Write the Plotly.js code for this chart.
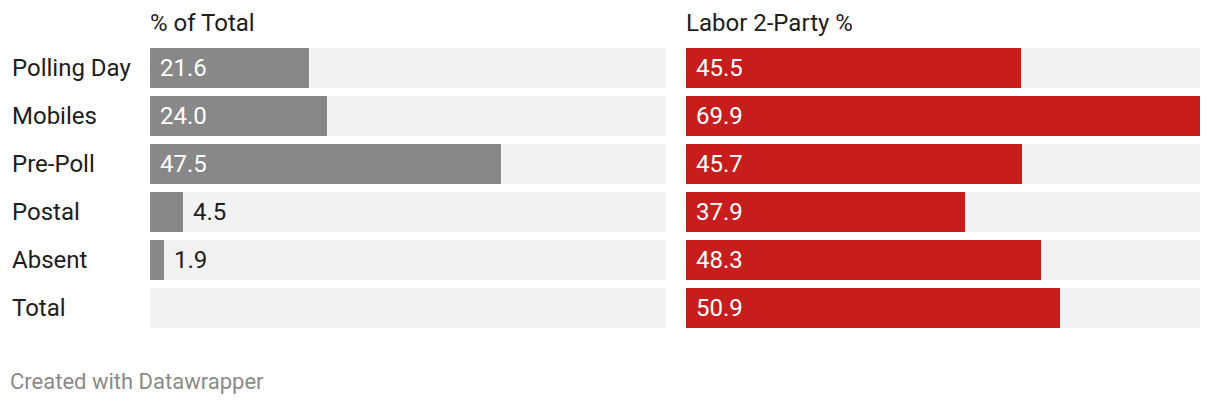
<!DOCTYPE html>
<html>
<head>
<meta charset="utf-8">
<script src="https://cdn.plot.ly/plotly-3.0.1.min.js"></script>
<style>html,body{margin:0;padding:0;background:#fff;}#chart{width:1220px;height:404px;}</style>
</head>
<body>
<div id="chart"></div>
<script>
const categories = ["Polling Day", "Mobiles", "Pre-Poll", "Postal", "Absent", "Total"];
const pctOfTotal = [21.6, 24.0, 47.5, 4.5, 1.9, null];
const labor2Party = [45.5, 69.9, 45.7, 37.9, 48.3, 50.9];
const columnTitles = ["% of Total", "Labor 2-Party %"];
const footer = "Created with Datawrapper";

const W = 1220, H = 404;
const FONT = "Roboto, 'Noto Sans', sans-serif";
const allVals = pctOfTotal.concat(labor2Party).filter(v => v !== null);
const maxVal = Math.max(...allVals);
const px = v => v / W;
const py = v => 1 - v / H;

const bgTrace = (xa, ya) => ({
  type: "bar", orientation: "h", y: categories, x: categories.map(() => maxVal),
  marker: {color: "#f2f2f2"}, width: 40/48, xaxis: xa, yaxis: ya,
  hoverinfo: "skip", showlegend: false
});
const dataTrace = (vals, color, xa, ya) => ({
  type: "bar", orientation: "h", y: categories, x: vals,
  marker: {color: color}, width: 40/48, xaxis: xa, yaxis: ya,
  hoverinfo: "skip", showlegend: false
});

const traces = [
  bgTrace("x", "y"), dataTrace(pctOfTotal, "#888888", "x", "y"),
  bgTrace("x2", "y2"), dataTrace(labor2Party, "#c71e1d", "x2", "y2")
];

const annotations = [];
function valueLabels(vals, xref, yref) {
  vals.forEach((v, i) => {
    if (v === null) return;
    const inside = v >= 10;
    annotations.push({
      xref: xref, yref: yref, x: inside ? 0 : v, y: categories[i],
      text: v.toFixed(1), showarrow: false, xanchor: "left", yanchor: "middle",
      xshift: 8, font: {family: FONT, size: 24, color: inside ? "#ffffff" : "#1d1d1d"}
    });
  });
}
valueLabels(pctOfTotal, "x", "y");
valueLabels(labor2Party, "x2", "y2");

categories.forEach(c => {
  annotations.push({
    xref: "paper", yref: "y", x: px(10), y: c, text: c, showarrow: false,
    xanchor: "left", yanchor: "middle", font: {family: FONT, size: 24, color: "#1d1d1d"}
  });
});
annotations.push({xref: "paper", yref: "paper", x: px(148), y: py(23), text: columnTitles[0],
  showarrow: false, xanchor: "left", yanchor: "middle", font: {family: FONT, size: 24, color: "#1d1d1d"}});
annotations.push({xref: "paper", yref: "paper", x: px(684), y: py(23), text: columnTitles[1],
  showarrow: false, xanchor: "left", yanchor: "middle", font: {family: FONT, size: 24, color: "#1d1d1d"}});
annotations.push({xref: "paper", yref: "paper", x: px(8), y: py(381), text: footer,
  showarrow: false, xanchor: "left", yanchor: "middle", font: {family: FONT, size: 22, color: "#8a8a8a"}});

const xCommon = {range: [0, maxVal], showgrid: false, zeroline: false, showticklabels: false, fixedrange: true};
const yCommon = {type: "category", range: [5.5, -0.5], showgrid: false, zeroline: false, showticklabels: false,
  domain: [py(332), py(44)], fixedrange: true};

const layout = {
  width: W, height: H, margin: {l: 0, r: 0, t: 0, b: 0},
  paper_bgcolor: "#ffffff", plot_bgcolor: "rgba(0,0,0,0)",
  barmode: "overlay", bargap: 0,
  xaxis: Object.assign({}, xCommon, {domain: [px(150), px(666)], anchor: "y"}),
  yaxis: Object.assign({}, yCommon, {anchor: "x"}),
  xaxis2: Object.assign({}, xCommon, {domain: [px(686), px(1200)], anchor: "y2"}),
  yaxis2: Object.assign({}, yCommon, {anchor: "x2"}),
  annotations: annotations,
  font: {family: FONT}
};

Plotly.newPlot("chart", traces, layout, {displayModeBar: false, staticPlot: true});
</script>
</body>
</html>
